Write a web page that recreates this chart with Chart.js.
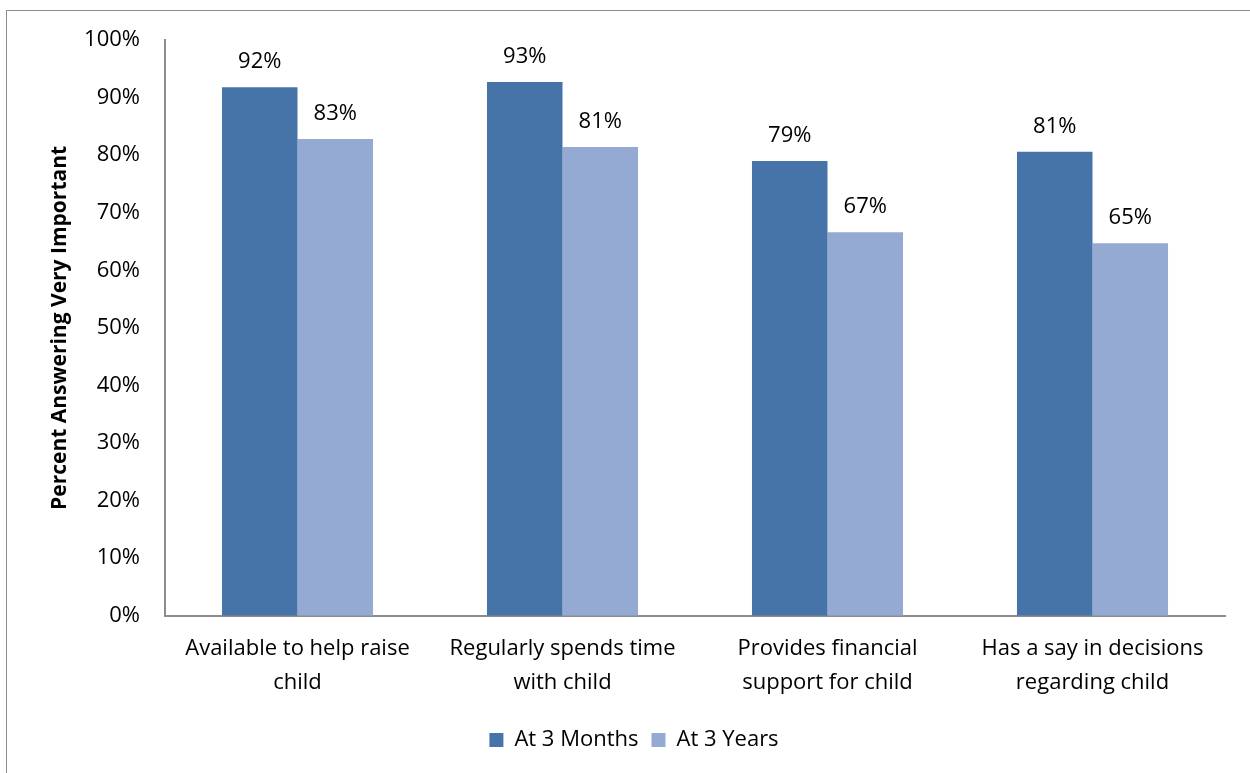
<!DOCTYPE html>
<html>
<head>
<meta charset="utf-8">
<script src="https://cdn.jsdelivr.net/npm/chart.js@4"></script>
<style>
  html, body { margin: 0; padding: 0; background: #fff; }
  #frame { position: absolute; left: 6px; top: 10px; width: 1260px; height: 780px; border: 1px solid #8c8c8c; box-sizing: border-box; }
  #wrap { position: absolute; left: 0; top: 0; width: 1250px; height: 773px; }
</style>
</head>
<body>
<div id="frame"></div>
<div id="wrap"><canvas id="chart"></canvas></div>
<script>
const categories = [
    ['Available to help raise', 'child'],
    ['Regularly spends time', 'with child'],
    ['Provides financial', 'support for child'],
    ['Has a say in decisions', 'regarding child']
];
const seriesNames = ['At 3 Months', 'At 3 Years'];
const months3 = [91.8, 92.7, 79.0, 80.6];
const years3 = [82.8, 81.4, 66.6, 64.7];
const yTicks = [0, 10, 20, 30, 40, 50, 60, 70, 80, 90, 100];

const fontFamily = '"Open Sans", sans-serif';

// draw the percent value above every bar
const barLabels = {
    id: 'barLabels',
    afterDatasetsDraw(chart) {
        const ctx = chart.ctx;
        ctx.save();
        ctx.font = '22px ' + fontFamily;
        ctx.fillStyle = '#000';
        ctx.textAlign = 'center';
        ctx.textBaseline = 'alphabetic';
        chart.data.datasets.forEach((ds, i) => {
            chart.getDatasetMeta(i).data.forEach((bar, j) => {
                ctx.fillText(Math.round(ds.data[j]) + '%', bar.x, bar.y - 19);
            });
        });
        ctx.restore();
    }
};

const ctx = document.getElementById('chart').getContext('2d');
const chart = new Chart(ctx, {
    type: 'bar',
    data: {
        labels: categories,
        datasets: [{
            label: seriesNames[0],
            data: months3,
            backgroundColor: '#4674a8'
        }, {
            label: seriesNames[1],
            data: years3,
            backgroundColor: '#95aad2'
        }]
    },
    options: {
        responsive: true,
        maintainAspectRatio: false,
        animation: false,
        layout: { padding: { left: 43, right: 25, top: 40, bottom: 12 } },
        datasets: { bar: { categoryPercentage: 0.57, barPercentage: 1.0 } },
        plugins: {
            legend: {
                position: 'bottom',
                labels: {
                    font: { family: fontFamily, size: 22 },
                    color: '#000',
                    boxWidth: 14,
                    boxHeight: 14,
                    padding: 13
                }
            },
            tooltip: { enabled: false }
        },
        scales: {
            x: {
                grid: { display: false, drawTicks: false },
                border: { color: '#8c8c8c', width: 2 },
                ticks: {
                    font: { family: fontFamily, size: 22, lineHeight: 1.55 },
                    color: '#000',
                    padding: 16,
                    maxRotation: 0
                }
            },
            y: {
                min: 0,
                max: 100,
                afterBuildTicks: axis => { axis.ticks = yTicks.map(v => ({ value: v })); },
                afterFit: axis => { axis.width = 122; },
                grid: { display: false, drawTicks: false },
                border: { color: '#8c8c8c', width: 2 },
                ticks: {
                    font: { family: fontFamily, size: 22 },
                    color: '#000',
                    padding: 25,
                    callback: v => v + '%'
                },
                title: {
                    display: true,
                    text: 'Percent Answering Very Important',
                    font: { family: fontFamily, size: 21, weight: 'bold' },
                    color: '#000',
                    padding: { bottom: 18 }
                }
            }
        }
    },
    plugins: [barLabels]
});
</script>
</body>
</html>
